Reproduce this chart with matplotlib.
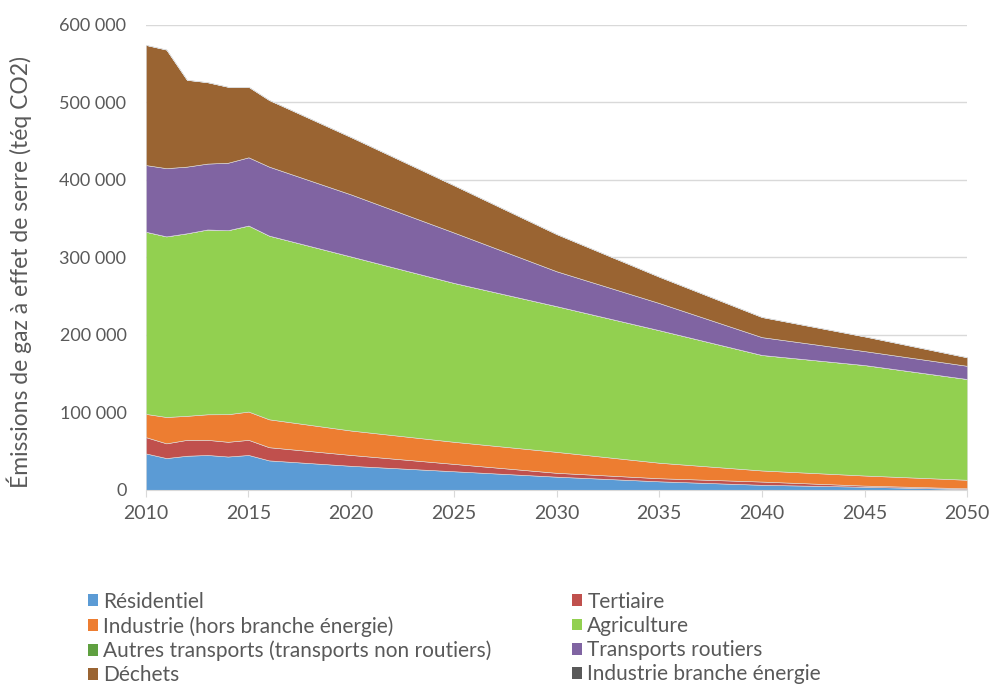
import matplotlib.pyplot as plt
from matplotlib.patches import Patch
from matplotlib.ticker import FuncFormatter

years = [2010, 2011, 2012, 2013, 2014, 2015, 2016, 2020, 2025, 2030, 2035, 2040, 2045, 2050]

# emissions per sector (téq CO2)
residentiel = [47000, 41000, 44000, 45000, 43000, 45000, 38000, 31000, 24000, 17000, 11000, 6500, 4000, 1000]
tertiaire = [21000, 19000, 20500, 19500, 19000, 19500, 17000, 14000, 9500, 5000, 4000, 4200, 1500, 1000]
industrie = [30000, 34000, 31000, 33000, 35600, 36500, 36000, 31500, 28500, 27000, 20000, 14300, 13000, 11000]
agriculture = [235000, 233000, 235500, 238400, 237400, 240000, 237000, 224500, 205000, 188000, 171000, 149000, 142500, 130000]
autres_transports = [0] * len(years)
transports_routiers = [86000, 88000, 86000, 85000, 87000, 88000, 89000, 80000, 65000, 45000, 35000, 23000, 18000, 17000]
dechets = [155000, 153000, 112000, 105000, 98000, 91000, 86000, 74000, 61000, 48000, 34000, 26000, 19000, 11000]
industrie_energie = [0] * len(years)

labels = ["Résidentiel", "Tertiaire", "Industrie (hors branche énergie)", "Agriculture",
          "Autres transports (transports non routiers)", "Transports routiers",
          "Déchets", "Industrie branche énergie"]
colors = ["#5B9BD5", "#C0504D", "#ED7D31", "#92D050", "#5FA040", "#8064A2", "#9A6432", "#595959"]

plt.rcParams['font.family'] = ['Lato', 'DejaVu Sans']
grey = "#595959"

fig = plt.figure(figsize=(9.92, 6.88), dpi=100)
ax = fig.add_axes([0.147, 0.288, 0.828, 0.676])

series = [residentiel, tertiaire, industrie, agriculture, autres_transports,
          transports_routiers, dechets, industrie_energie]
ax.stackplot(years, *series, colors=colors, labels=labels, linewidth=0.4, edgecolor="#dddddd")

ax.set_xlim(2010, 2050)
ax.set_ylim(0, 600000)
ax.set_xticks(range(2010, 2051, 5))
ax.set_yticks(range(0, 600001, 100000))
ax.yaxis.set_major_formatter(FuncFormatter(lambda v, p: f"{int(v):,}".replace(",", " ")))
ax.grid(axis='y', color="#d9d9d9", linewidth=1)
ax.set_axisbelow(True)
for s in ['top', 'right', 'left']:
    ax.spines[s].set_visible(False)
ax.spines['bottom'].set_color("#d9d9d9")
ax.tick_params(axis='y', length=0, labelsize=13, labelcolor=grey, pad=14)
ax.tick_params(axis='x', length=5, color="#d9d9d9", labelsize=14, labelcolor=grey, pad=6)
ax.set_ylabel("Émissions de gaz à effet de serre (téq CO2)", fontsize=16.5, color=grey)
ax.yaxis.set_label_coords(-0.139, 0.469)

handles = [Patch(facecolor=c) for c in colors]
left = [0, 2, 4, 6]
right = [1, 3, 5, 7]
kw = dict(frameon=False, fontsize=15, labelcolor=grey, handlelength=0.5, handleheight=0.5,
          handletextpad=0.25, labelspacing=0.2, loc='upper left', borderaxespad=0)
fig.legend([handles[i] for i in left], [labels[i] for i in left],
           bbox_to_anchor=(0.080, 0.152), **kw)
fig.legend([handles[i] for i in right], [labels[i] for i in right],
           bbox_to_anchor=(0.568, 0.152), **kw)

fig.savefig("out.png", dpi=100)
